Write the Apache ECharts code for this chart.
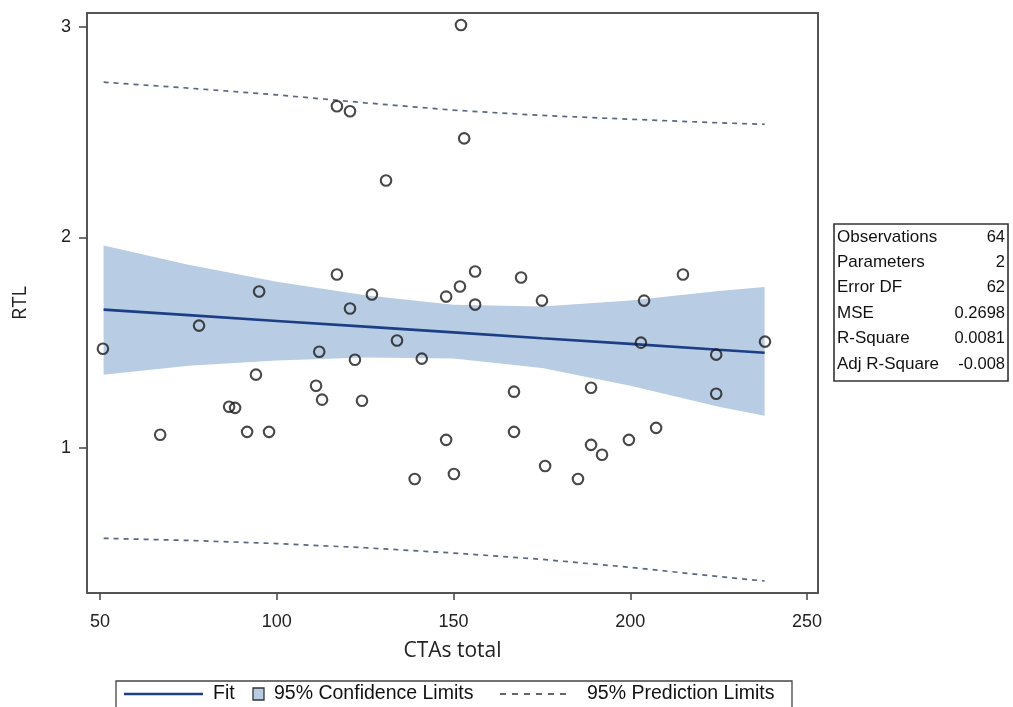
<!DOCTYPE html>
<html>
<head>
<meta charset="utf-8">
<script src="https://cdn.jsdelivr.net/npm/echarts@6/dist/echarts.min.js"></script>
<style>
  html, body { margin: 0; padding: 0; background: #fff; }
  #chart { width: 1013px; height: 707px; }
</style>
</head>
<body>
<div id="chart"></div>
<script>
// Observed points: CTAs total vs RTL
const ctas = [50.8, 67.0, 78.0, 86.5, 88.2, 91.6, 94.1, 95.0, 97.8, 111.1, 112.0, 112.8,
  117.0, 117.0, 120.7, 120.7, 122.1, 124.1, 126.9, 130.9, 134.0, 139.0, 141.0, 147.9,
  147.9, 150.1, 151.8, 152.1, 153.0, 156.1, 156.1, 167.1, 167.1, 169.1, 175.0, 175.9,
  185.2, 188.9, 188.9, 192.0, 199.6, 203.0, 203.9, 207.3, 214.9, 224.3, 224.3, 238.1];
const rtl = [1.471, 1.062, 1.581, 1.195, 1.190, 1.076, 1.348, 1.743, 1.076, 1.295, 1.457, 1.229,
  2.624, 1.824, 2.600, 1.662, 1.419, 1.224, 1.729, 2.271, 1.510, 0.852, 1.424, 1.719,
  1.038, 0.876, 1.767, 3.010, 2.471, 1.838, 1.681, 1.267, 1.076, 1.810, 1.700, 0.914,
  0.852, 1.286, 1.014, 0.967, 1.038, 1.500, 1.700, 1.095, 1.824, 1.443, 1.257, 1.505];

// Regression fit with confidence and prediction limits
const gridX    = [51, 75, 100, 125, 150, 175, 200, 225, 238];
const fitY     = [1.657, 1.631, 1.603, 1.576, 1.549, 1.521, 1.494, 1.466, 1.452];
const clUpper  = [1.962, 1.870, 1.790, 1.725, 1.680, 1.672, 1.700, 1.745, 1.765];
const clLower  = [1.348, 1.390, 1.415, 1.430, 1.425, 1.380, 1.295, 1.195, 1.152];
const plUpper  = [2.738, 2.710, 2.678, 2.640, 2.605, 2.580, 2.562, 2.545, 2.538];
const plLower  = [0.570, 0.560, 0.545, 0.525, 0.500, 0.470, 0.432, 0.388, 0.367];

const xTicks = [50, 100, 150, 200, 250];
const yTicks = [1, 2, 3];

// Fit statistics table
const statNames  = ['Observations', 'Parameters', 'Error DF', 'MSE', 'R-Square', 'Adj R-Square'];
const statValues = ['64', '2', '62', '0.2698', '0.0081', '-0.008'];

const FONT = '"Liberation Sans", Arial, sans-serif';
const TITLE_FONT = '"Open Sans", "Noto Sans", sans-serif';
const pairs = (xs, ys) => xs.map((x, i) => [x, ys[i]]);

const chart = echarts.init(document.getElementById('chart'));

const bandData = gridX.map((x, i) => [x, clLower[i], clUpper[i]]);

const statGraphics = [];
const rowTop = 237, rowStep = 25.4;
statGraphics.push({
  type: 'rect', shape: { x: 834, y: 224, width: 174, height: 157 },
  style: { fill: '#fff', stroke: '#333', lineWidth: 1.6 }
});
statNames.forEach((n, i) => {
  statGraphics.push({
    type: 'text', x: 837, y: rowTop + i * rowStep,
    style: { text: n, fill: '#111', font: '17px ' + FONT, verticalAlign: 'middle', align: 'left' }
  });
  statGraphics.push({
    type: 'text', x: 1005, y: rowTop + i * rowStep,
    style: { text: statValues[i], fill: '#111', font: '16.5px ' + FONT, verticalAlign: 'middle', align: 'right' }
  });
});

const legendY = 694;
const legendGraphics = [
  { type: 'rect', shape: { x: 116, y: 681, width: 676, height: 27 },
    style: { fill: '#fff', stroke: '#444', lineWidth: 1.3 } },
  { type: 'line', shape: { x1: 124, y1: legendY, x2: 203, y2: legendY },
    style: { stroke: '#1c3e85', lineWidth: 2.6 } },
  { type: 'text', x: 213, y: legendY,
    style: { text: 'Fit', fill: '#111', font: '19.5px ' + FONT, verticalAlign: 'middle' } },
  { type: 'rect', shape: { x: 253, y: 688, width: 11, height: 12 },
    style: { fill: '#b8cce4', stroke: '#333', lineWidth: 1.3 } },
  { type: 'text', x: 274, y: legendY,
    style: { text: '95% Confidence Limits', fill: '#111', font: '19.5px ' + FONT, verticalAlign: 'middle' } },
  { type: 'line', shape: { x1: 500, y1: legendY, x2: 571, y2: legendY },
    style: { stroke: '#333', lineWidth: 1.4, lineDash: [6, 6] } },
  { type: 'text', x: 587, y: legendY,
    style: { text: '95% Prediction Limits', fill: '#111', font: '19.5px ' + FONT, verticalAlign: 'middle' } }
];

chart.setOption({
  animation: false,
  backgroundColor: '#fff',
  textStyle: { fontFamily: FONT },
  grid: {
    left: 87, top: 13, right: 195, bottom: 114,
    outerBoundsMode: 'none', containLabel: false,
    show: true, borderColor: '#555', borderWidth: 2, backgroundColor: 'transparent'
  },
  xAxis: {
    type: 'value', min: 46.3, max: 253.1,
    name: 'CTAs total', nameLocation: 'middle', nameGap: 48,
    nameTextStyle: { fontSize: 21, color: '#222', fontFamily: TITLE_FONT },
    axisLine: { show: true, lineStyle: { color: '#555', width: 2 } },
    axisTick: { show: true, length: 7, lineStyle: { color: '#444', width: 1.5 }, customValues: xTicks },
    axisLabel: { fontSize: 18, color: '#222', margin: 20, customValues: xTicks, fontFamily: FONT },
    splitLine: { show: false }
  },
  yAxis: {
    type: 'value', min: 0.31, max: 3.067,
    name: 'RTL', nameLocation: 'middle', nameGap: 57, nameRotate: 90,
    nameTextStyle: { fontSize: 20, color: '#222', fontFamily: TITLE_FONT },
    axisLine: { show: true, lineStyle: { color: '#555', width: 2 } },
    axisTick: { show: true, length: 8, lineStyle: { color: '#444', width: 1.5 }, customValues: yTicks },
    axisLabel: { fontSize: 18, color: '#222', margin: 16, customValues: yTicks, fontFamily: FONT },
    splitLine: { show: false }
  },
  series: [
    {
      name: '95% Confidence Limits',
      type: 'custom',
      data: bandData,
      renderItem: function (params, api) {
        if (params.dataIndex !== 0) return null;
        const up = [], lo = [];
        for (let i = 0; i < bandData.length; i++) {
          up.push(api.coord([bandData[i][0], bandData[i][2]]));
          lo.unshift(api.coord([bandData[i][0], bandData[i][1]]));
        }
        return {
          type: 'polygon',
          shape: { points: up.concat(lo) },
          style: { fill: '#b8cce4' },
          z2: 0
        };
      },
      z: 1,
      silent: true
    },
    {
      name: 'Fit', type: 'line', data: pairs(gridX, fitY),
      showSymbol: false, lineStyle: { color: '#1c3e85', width: 2.6 }, z: 3, silent: true
    },
    {
      name: '95% Prediction Limits upper', type: 'line', data: pairs(gridX, plUpper),
      showSymbol: false, lineStyle: { color: '#5a6683', width: 1.7, type: [5, 5] }, z: 3, silent: true
    },
    {
      name: '95% Prediction Limits lower', type: 'line', data: pairs(gridX, plLower),
      showSymbol: false, lineStyle: { color: '#5a6683', width: 1.7, type: [5, 5] }, z: 3, silent: true
    },
    {
      name: 'RTL', type: 'scatter', data: pairs(ctas, rtl),
      symbol: 'circle', symbolSize: 10.5,
      itemStyle: { color: 'rgba(255,255,255,0)', borderColor: '#1a1a1a', borderWidth: 2.1 },
      z: 4, silent: true
    }
  ],
  graphic: statGraphics.concat(legendGraphics)
});
</script>
</body>
</html>
